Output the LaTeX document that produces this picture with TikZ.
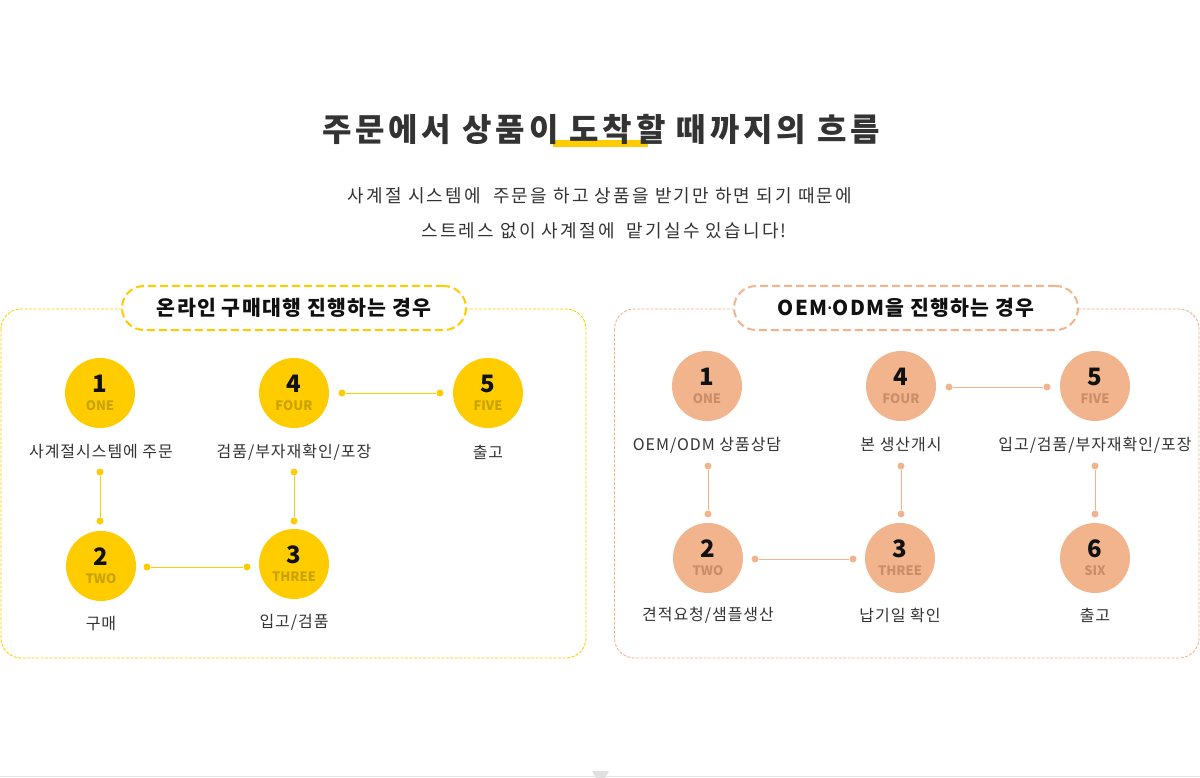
\documentclass[tikz,border=0pt]{standalone}
\usepackage{fontspec}
\setmainfont{Noto Sans CJK KR}
\newfontfamily\krtitle[LetterSpace=12]{Noto Sans CJK KR}
\newfontfamily\krsub[LetterSpace=12]{Noto Sans CJK KR}
\newfontfamily\krlbl[LetterSpace=6]{Noto Sans CJK KR}
\newfontfamily\krpill[LetterSpace=6]{Noto Sans CJK KR}
\newfontfamily\latdot{Noto Sans}
\usetikzlibrary{shapes.geometric}
\definecolor{yel}{HTML}{FFCC00}
\definecolor{yelsub}{HTML}{C9A200}
\definecolor{sal}{HTML}{F2B48C}
\definecolor{salsub}{HTML}{C98E69}
\definecolor{txt}{HTML}{333333}
\definecolor{dark}{HTML}{111111}
\begin{document}
\begin{tikzpicture}[x=1pt,y=-1pt,
  stepcirc/.style={circle, minimum size=70pt, inner sep=0pt},
  numtxt/.style={font=\fontsize{24}{24}\selectfont\bfseries, text=dark, inner sep=0pt},
  subtxt/.style={font=\fontsize{13}{13}\selectfont\bfseries, inner sep=0pt},
  lbl/.style={font=\krlbl\fontsize{16}{16}\selectfont, text=txt, inner sep=0pt},
  dotend/.style={circle, fill, inner sep=0pt, minimum size=7pt},
  link/.style={line width=1pt},
  pill/.style={line width=2pt, dash pattern=on 8pt off 4pt, rounded corners=22pt, fill=white,
    minimum height=44pt, font=\krpill\fontsize{20.5}{20.5}\selectfont\bfseries, text=dark},
  panel/.style={line width=0.9pt, dash pattern=on 3pt off 1.5pt, rounded corners=20pt}
]
\useasboundingbox (0,0) rectangle (1200,778);
\fill[white] (0,0) rectangle (1200,778);

% title
\fill[yel] (553,140) rectangle (648,147);
\node[font=\krtitle\fontsize{32}{32}\selectfont\bfseries, text=txt, inner sep=0pt] (title) at (601,129) {주문에서 상품이 도착할 때까지의 흐름};
\node[font=\krsub\fontsize{18}{18}\selectfont, text=txt, inner sep=0pt] (sub1) at (600,196) {사계절 시스템에\ \ 주문을 하고 상품을 받기만 하면 되기 때문에};
\node[font=\krsub\fontsize{18}{18}\selectfont, text=txt, inner sep=0pt] (sub2) at (604,231) {스트레스 없이 사계절에\ \ 맡기실수 있습니다!};

% ---------- left panel ----------
\draw[panel, yel] (1,309) rectangle (586,658);
\node[pill, draw=yel, minimum width=344pt] (lt) at (294,308) {온라인 구매대행 진행하는 경우};

\foreach \n/\x/\y/\s/\nm in {1/100/393/ONE/a, 4/294/393/FOUR/d, 5/488/393/FIVE/e, 2/101/566/TWO/b, 3/294/564/THREE/c}{
  \node[stepcirc, fill=yel] (L\nm) at (\x,\y) {};
  \node[numtxt] (L\nm n) at (\x,\y-9) {\n};
  \node[subtxt, text=yelsub] (L\nm s) at (\x,\y+13) {\s};
}
\node[lbl] (La l) at (101,452) {사계절시스템에 주문};
\node[lbl] (Ld l) at (294,452) {검품/부자재확인/포장};
\node[lbl] (Le l) at (488,452) {출고};
\node[lbl] (Lb l) at (101,624) {구매};
\node[lbl] (Lc l) at (294,622) {입고/검품};

\node[dotend, yel] (La1) at (100,472) {};
\node[dotend, yel] (La2) at (100,521) {};
\node[dotend, yel] (Ld1) at (294,472) {};
\node[dotend, yel] (Ld2) at (294,521) {};
\node[dotend, yel] (Lde1) at (342,393) {};
\node[dotend, yel] (Lde2) at (440,393) {};
\node[dotend, yel] (Lbc1) at (147,567) {};
\node[dotend, yel] (Lbc2) at (247,567) {};
\draw[link, yel] (La1) -- (La2);
\draw[link, yel] (Ld1) -- (Ld2);
\draw[link, yel] (Lde1) -- (Lde2);
\draw[link, yel] (Lbc1) -- (Lbc2);

% ---------- right panel ----------
\draw[panel, sal] (614.5,309) rectangle (1199,658);
\node[pill, draw=sal, minimum width=344pt] (rt) at (906,308) {OEM{\latdot ·}ODM을 진행하는 경우};

\foreach \n/\x/\y/\s/\nm in {1/707/386/ONE/a, 4/901/386/FOUR/d, 5/1095/386/FIVE/e, 2/708/558/TWO/b, 3/900/558/THREE/c, 6/1095/558/SIX/f}{
  \node[stepcirc, fill=sal] (R\nm) at (\x,\y) {};
  \node[numtxt] (R\nm n) at (\x,\y-9) {\n};
  \node[subtxt, text=salsub] (R\nm s) at (\x,\y+13) {\s};
}
\node[lbl] (Ra l) at (707,445) {OEM/ODM 상품상담};
\node[lbl] (Rd l) at (901,445) {본 생산개시};
\node[lbl] (Re l) at (1095,445) {입고/검품/부자재확인/포장};
\node[lbl] (Rb l) at (708,615) {견적요청/샘플생산};
\node[lbl] (Rc l) at (900,615) {납기일 확인};
\node[lbl] (Rf l) at (1095,615) {출고};

\node[dotend, sal] (Ra1) at (708,466) {};
\node[dotend, sal] (Ra2) at (708,514) {};
\node[dotend, sal] (Rd1) at (901,466) {};
\node[dotend, sal] (Rd2) at (901,514) {};
\node[dotend, sal] (Re1) at (1095,466) {};
\node[dotend, sal] (Re2) at (1095,514) {};
\node[dotend, sal] (Rde1) at (949,387) {};
\node[dotend, sal] (Rde2) at (1047,387) {};
\node[dotend, sal] (Rbc1) at (755,559) {};
\node[dotend, sal] (Rbc2) at (853,559) {};
\draw[link, sal] (Ra1) -- (Ra2);
\draw[link, sal] (Rd1) -- (Rd2);
\draw[link, sal] (Re1) -- (Re2);
\draw[link, sal] (Rde1) -- (Rde2);
\draw[link, sal] (Rbc1) -- (Rbc2);

% bottom rule
\draw[line width=1pt, black!10] (0,776.5) -- (1200,776.5);
\fill[black!12] (592,771) -- (609,771) -- (605,778) -- (596,778) -- cycle;
\end{tikzpicture}
\end{document}
